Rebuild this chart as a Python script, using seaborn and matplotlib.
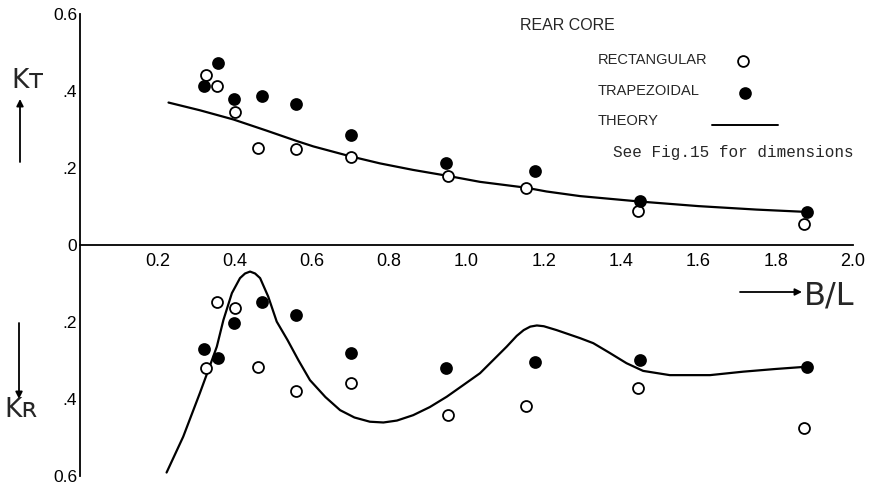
import matplotlib
matplotlib.use("Agg")
import matplotlib.pyplot as plt
import seaborn as sns
from matplotlib.lines import Line2D

sns.set_theme(style="white")
plt.rcParams["font.family"] = ["Liberation Sans", "DejaVu Sans"]
plt.rcParams["axes.edgecolor"] = "black"

PLAIN = ["Liberation Sans", "DejaVu Sans"]
SYMBOL = ["DejaVu Sans"]

# Measured coefficients (rear core); K_R is stored as a magnitude and drawn downward
rect_bl = [0.327, 0.355, 0.401, 0.460, 0.560, 0.702, 0.952, 1.155, 1.445, 1.874]
rect_kt = [0.442, 0.413, 0.345, 0.253, 0.249, 0.229, 0.180, 0.149, 0.088, 0.054]
rect_kr = [0.320, 0.149, 0.163, 0.318, 0.379, 0.359, 0.441, 0.418, 0.371, 0.475]

trap_bl = [0.320, 0.357, 0.398, 0.472, 0.560, 0.700, 0.948, 1.178, 1.449, 1.880]
trap_kt = [0.413, 0.472, 0.380, 0.387, 0.365, 0.286, 0.214, 0.192, 0.114, 0.086]
trap_kr = [0.269, 0.293, 0.203, 0.147, 0.181, 0.281, 0.320, 0.303, 0.299, 0.316]

# Theoretical curves
theory_kt_bl = [0.229, 0.310, 0.397, 0.483, 0.561, 0.604, 0.697, 0.776, 0.862,
                0.949, 1.035, 1.153, 1.207, 1.294, 1.447, 1.600, 1.750, 1.878]
theory_kt = [0.370, 0.350, 0.326, 0.297, 0.270, 0.256, 0.231, 0.212, 0.195,
             0.180, 0.164, 0.149, 0.139, 0.127, 0.113, 0.101, 0.092, 0.086]

theory_kr_bl = [0.224, 0.267, 0.310, 0.332, 0.354, 0.371, 0.393, 0.414, 0.427,
                0.440, 0.453, 0.466, 0.487, 0.509, 0.537, 0.565, 0.595, 0.635,
                0.673, 0.710, 0.750, 0.785, 0.820, 0.862, 0.905, 0.949, 0.990,
                1.035, 1.070, 1.104, 1.130, 1.148, 1.165, 1.182, 1.200, 1.233,
                1.294, 1.328, 1.370, 1.414, 1.457, 1.526, 1.630, 1.716, 1.800,
                1.882]
theory_kr = [0.591, 0.498, 0.385, 0.325, 0.264, 0.195, 0.125, 0.086, 0.074,
             0.069, 0.074, 0.086, 0.134, 0.199, 0.247, 0.299, 0.351, 0.395,
             0.429, 0.448, 0.459, 0.461, 0.456, 0.442, 0.421, 0.394, 0.365,
             0.333, 0.298, 0.264, 0.236, 0.221, 0.212, 0.209, 0.211, 0.221,
             0.242, 0.255, 0.280, 0.307, 0.327, 0.338, 0.338, 0.329, 0.322,
             0.316]

x_ticks = [0.2, 0.4, 0.6, 0.8, 1.0, 1.2, 1.4, 1.6, 1.8, 2.0]
x_tick_labels = ["0.2", "0.4", "0.6", "0.8", "1.0", "1.2", "1.4", "1.6", "1.8", "2.0"]
y_ticks = [0.6, 0.4, 0.2, 0.0, -0.2, -0.4, -0.6]
y_tick_labels = ["0.6", ".4", ".2", "0", ".2", ".4", "0.6"]

W, H = 879, 490
fig = plt.figure(figsize=(W / 100, H / 100), dpi=100)
ax = fig.add_axes([80 / W, 14 / H, 773 / W, 462 / H])


def fx(px):
    return px / W


def fy(py):
    return 1 - py / H


# theory curves
sns.lineplot(x=theory_kt_bl, y=theory_kt, ax=ax, color="black", lw=1.6,
             sort=False, legend=False)
sns.lineplot(x=theory_kr_bl, y=[-v for v in theory_kr], ax=ax, color="black",
             lw=1.6, sort=False, legend=False)

# experimental points
mk = dict(marker="o", s=62, linewidth=1.3, edgecolor="black", zorder=4, legend=False)
sns.scatterplot(x=rect_bl, y=rect_kt, ax=ax, color="white", **mk)
sns.scatterplot(x=rect_bl, y=[-v for v in rect_kr], ax=ax, color="white", **mk)
sns.scatterplot(x=trap_bl, y=trap_kt, ax=ax, color="black", **mk)
sns.scatterplot(x=trap_bl, y=[-v for v in trap_kr], ax=ax, color="black", **mk)

ax.set_xlim(0, 2.0)
ax.set_ylim(-0.6, 0.6)
ax.set_xlabel("")
ax.set_ylabel("")

for side in ("top", "right"):
    ax.spines[side].set_visible(False)
ax.spines["bottom"].set_position(("data", 0))
for side in ("left", "bottom"):
    ax.spines[side].set_linewidth(1.3)
    ax.spines[side].set_color("black")

ax.set_xticks(x_ticks)
ax.set_xticklabels(x_tick_labels)
ax.set_yticks(y_ticks)
ax.set_yticklabels(y_tick_labels)
ax.tick_params(axis="x", direction="in", length=7, width=1.2, pad=6,
               labelsize=13, colors="black")
ax.tick_params(axis="y", direction="in", length=7, width=1.2, pad=2,
               labelsize=12.5, colors="black")

# key: left-aligned labels with their symbols in one column on the right
key_font = dict(family=PLAIN, fontsize=10.5, ha="left", va="center")
fig.text(fx(520), fy(25), "REAR CORE", ha="left", va="center",
         family=PLAIN, fontsize=11.5)
fig.text(fx(598), fy(60), "RECTANGULAR", **key_font)
fig.text(fx(598), fy(91), "TRAPEZOIDAL", **key_font)
fig.text(fx(598), fy(121), "THEORY", **key_font)
fig.add_artist(Line2D([fx(743)], [fy(61)], transform=fig.transFigure, ls="none",
                      marker="o", markersize=7.8, mfc="white", mec="black", mew=1.3))
fig.add_artist(Line2D([fx(745)], [fy(93)], transform=fig.transFigure, ls="none",
                      marker="o", markersize=7.8, mfc="black", mec="black", mew=1.3))
fig.add_artist(Line2D([fx(712), fx(778)], [fy(125), fy(125)],
                      transform=fig.transFigure, color="black", lw=1.4))
fig.text(fx(613), fy(153), "See Fig.15 for dimensions", ha="left", va="center",
         family=["Liberation Mono", "DejaVu Sans Mono"], fontsize=11.5)

# axis names with direction arrows
fig.text(fx(11), fy(81), "K\u1d1b", ha="left", va="center", family=SYMBOL, fontsize=19)
fig.text(fx(4), fy(410), "K\u0280", ha="left", va="center", family=SYMBOL, fontsize=19)
arrow = dict(arrowstyle="-|>", color="black", lw=1.3, mutation_scale=10,
             shrinkA=0, shrinkB=0)
ax.annotate("", xy=(fx(20), fy(99)), xytext=(fx(20), fy(162)),
            xycoords="figure fraction", annotation_clip=False, arrowprops=arrow)
ax.annotate("", xy=(fx(19), fy(399)), xytext=(fx(19), fy(323)),
            xycoords="figure fraction", annotation_clip=False, arrowprops=arrow)
ax.annotate("", xy=(fx(802), fy(292)), xytext=(fx(740), fy(292)),
            xycoords="figure fraction", annotation_clip=False, arrowprops=arrow)
fig.text(fx(804), fy(296), "B/L", ha="left", va="center", family=SYMBOL, fontsize=23)

fig.savefig("out.png", dpi=100, facecolor="white")
